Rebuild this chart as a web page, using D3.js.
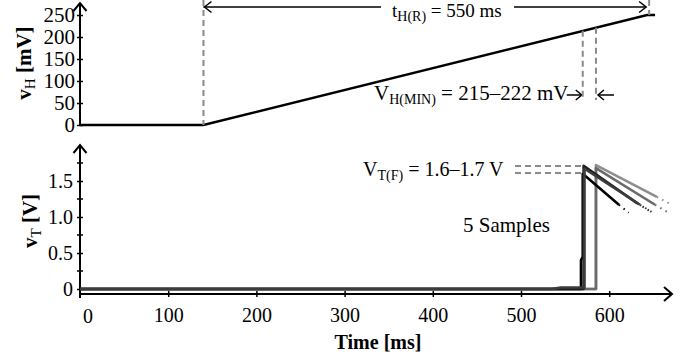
<!DOCTYPE html>
<html>
<head>
<meta charset="utf-8">
<script src="https://cdn.jsdelivr.net/npm/d3@7"></script>
<style>
body { margin: 0; background: #fff; }
text { font-family: "Liberation Serif", "Times New Roman", serif; fill: #000; }
</style>
</head>
<body>
<svg id="chart" width="689" height="354"></svg>
<script>
// ---- values ----
var timeTicks = [0, 100, 200, 300, 400, 500, 600];
var vhTicks = [0, 50, 100, 150, 200, 250];
var vtTicks = [0, 0.5, 1.0, 1.5];
var vtMinorTicks = [0.25, 0.75, 1.25, 1.75];

// heater voltage ramp (ms, mV)
var vhTrace = [[0, 0], [140, 0], [643, 250], [652, 250]];
var riseStart = 140, riseEnd = 643;
var vhMinTimes = [570, 585];
var vhMinValues = [214, 221];
var vtfLevels = [1.71, 1.61];

// 5 samples (ms, V), with dotted tails
var sample1 = [[0, 0], [568, 0], [568, 0.4], [570, 0.45], [570, 1.60], [575, 1.55], [611, 1.17]];
var sample1Tail = [[611, 1.17], [622, 1.06]];
var sample2 = [[0, 0], [571, 0], [571, 1.71], [632, 1.19]];
var sample2Tail = [[632, 1.19], [645, 1.09]];
var sample3 = [[0, 0], [535, 0], [545, 0.02], [572, 0.02], [572, 1.67], [635, 1.17]];
var sample3Tail = [[635, 1.17], [648, 1.07]];
var sample4 = [[0, 0], [585, 0], [585, 1.68], [652, 1.17]];
var sample4Tail = [[652, 1.17], [666, 1.07]];
var sample5 = [[0, 0], [585, 0], [585, 1.72], [654, 1.28]];
var sample5Tail = [[654, 1.28], [671, 1.17]];

var svg = d3.select("#chart");

var x = d3.scaleLinear().domain([0, 600]).range([80, 609.2]);
var yH = d3.scaleLinear().domain([0, 250]).range([125, 15]);
var yT = d3.scaleLinear().domain([0, 1.5]).range([289, 181]);

function chevron(px, py, dir, d, h) {
    // open arrow head, tip at px,py
    if (dir == "up") return "M" + (px - h) + "," + (py + d) + "L" + px + "," + py + "L" + (px + h) + "," + (py + d);
    if (dir == "right") return "M" + (px - d) + "," + (py - h) + "L" + px + "," + py + "L" + (px - d) + "," + (py + h);
    return "M" + (px + d) + "," + (py - h) + "L" + px + "," + py + "L" + (px + d) + "," + (py + h);
}

function dashed(x1, y1, x2, y2) {
    svg.append("line")
        .attr("x1", x1).attr("y1", y1).attr("x2", x2).attr("y2", y2)
        .attr("stroke", "#8a8a8a").attr("stroke-width", 2)
        .attr("stroke-dasharray", "6,4");
}

// ---------- top panel: vH ----------
var gTop = svg.append("g");

// y axis
gTop.append("line").attr("x1", 80).attr("x2", 80).attr("y1", yH(0)).attr("y2", 3)
    .attr("stroke", "#000").attr("stroke-width", 2);
gTop.append("path").attr("d", chevron(80, 3, "up", 8, 6.5))
    .attr("fill", "none").attr("stroke", "#000").attr("stroke-width", 2);

var yHAxis = gTop.append("g").attr("transform", "translate(80,0)")
    .call(d3.axisLeft(yH).tickValues(vhTicks).tickSize(3).tickPadding(2));
yHAxis.select(".domain").remove();
yHAxis.selectAll(".tick line").attr("x1", 3).attr("stroke-width", 1.5);
yHAxis.selectAll(".tick text")
    .style("font-family", '"Liberation Serif", serif').style("font-size", "21px");

// guide lines
dashed(x(riseStart), 0, x(riseStart), yH(0));
dashed(x(riseEnd) + 2, 0, x(riseEnd) + 2, yH(250));
vhMinTimes.forEach(function(t, i) {
    dashed(x(t), yH(vhMinValues[i]), x(t), 100);
});

// ramp
var lineH = d3.line().x(function(d) { return x(d[0]); }).y(function(d) { return yH(d[1]); });
gTop.append("path").datum(vhTrace).attr("d", lineH)
    .attr("fill", "none").attr("stroke", "#000").attr("stroke-width", 2.5);

// tH(R) arrow
var ay = 7;
gTop.append("line").attr("x1", x(riseStart)).attr("x2", 381).attr("y1", ay).attr("y2", ay)
    .attr("stroke", "#000").attr("stroke-width", 1.5);
gTop.append("line").attr("x1", 514).attr("x2", x(riseEnd) - 1).attr("y1", ay).attr("y2", ay)
    .attr("stroke", "#000").attr("stroke-width", 1.5);
gTop.append("path").attr("d", chevron(x(riseStart) + 1, ay, "left", 7, 5.5))
    .attr("fill", "none").attr("stroke", "#000").attr("stroke-width", 1.5);
gTop.append("path").attr("d", chevron(x(riseEnd) - 1, ay, "right", 7, 5.5))
    .attr("fill", "none").attr("stroke", "#000").attr("stroke-width", 1.5);

var tText = gTop.append("text").attr("x", 392).attr("y", 17).style("font-size", "19px");
tText.append("tspan").text("t");
tText.append("tspan").attr("dy", 4).style("font-size", "14px").text("H(R)");
tText.append("tspan").attr("dy", -4).text(" = 550 ms");

// VH(MIN) annotation
var vText = gTop.append("text").attr("x", 374).attr("y", 100).style("font-size", "21px");
vText.append("tspan").text("V");
vText.append("tspan").attr("dy", 4).style("font-size", "14px").text("H(MIN)");
vText.append("tspan").attr("dy", -4).text(" = 215\u2013222 mV");

var a1 = x(vhMinTimes[0]) - 1, a2 = x(vhMinTimes[1]) + 2;
gTop.append("line").attr("x1", a1 - 15).attr("x2", a1).attr("y1", 95).attr("y2", 95)
    .attr("stroke", "#000").attr("stroke-width", 1.5);
gTop.append("path").attr("d", chevron(a1, 95, "right", 6, 5))
    .attr("fill", "none").attr("stroke", "#000").attr("stroke-width", 1.5);
gTop.append("line").attr("x1", a2).attr("x2", a2 + 16).attr("y1", 95).attr("y2", 95)
    .attr("stroke", "#000").attr("stroke-width", 1.5);
gTop.append("path").attr("d", chevron(a2, 95, "left", 6, 5))
    .attr("fill", "none").attr("stroke", "#000").attr("stroke-width", 1.5);

// y label
var yhLabel = gTop.append("text").attr("transform", "translate(31,63) rotate(-90)")
    .attr("text-anchor", "middle").style("font-size", "21px").style("font-weight", "bold");
yhLabel.append("tspan").text("v");
yhLabel.append("tspan").attr("dy", 4).style("font-size", "15px").style("font-weight", "normal").text("H");
yhLabel.append("tspan").attr("dy", -4).text(" [mV]");

// ---------- bottom panel: vT ----------
var gBot = svg.append("g");

// x axis
gBot.append("line").attr("x1", 80).attr("x2", 671).attr("y1", 294).attr("y2", 294)
    .attr("stroke", "#000").attr("stroke-width", 2);
gBot.append("path").attr("d", chevron(672, 294, "right", 8, 7))
    .attr("fill", "none").attr("stroke", "#000").attr("stroke-width", 2);
var xAxis = gBot.append("g").attr("transform", "translate(0,294)")
    .call(d3.axisBottom(x).tickValues(timeTicks.slice(1)).tickSize(3).tickPadding(11));
xAxis.select(".domain").remove();
xAxis.selectAll(".tick line").attr("y1", -3).attr("stroke-width", 1.5);
xAxis.selectAll(".tick text")
    .style("font-family", '"Liberation Serif", serif').style("font-size", "20px");
gBot.append("text").attr("x", x(0) + 8).attr("y", 323).attr("text-anchor", "middle")
    .style("font-size", "20px").text(timeTicks[0]);

// y axis
gBot.append("line").attr("x1", 80).attr("x2", 80).attr("y1", 298).attr("y2", 145)
    .attr("stroke", "#000").attr("stroke-width", 2);
gBot.append("path").attr("d", chevron(80, 145, "up", 8, 6.5))
    .attr("fill", "none").attr("stroke", "#000").attr("stroke-width", 2);
var yTAxis = gBot.append("g").attr("transform", "translate(80,0)")
    .call(d3.axisLeft(yT).tickValues(vtTicks).tickSize(3).tickPadding(4)
        .tickFormat(function(d) { return d == 0 ? "0" : d3.format(".1f")(d); }));
yTAxis.select(".domain").remove();
yTAxis.selectAll(".tick line").attr("x1", 3).attr("stroke-width", 1.5);
yTAxis.selectAll(".tick text")
    .style("font-family", '"Liberation Serif", serif').style("font-size", "20px");
gBot.selectAll("line.minor").data(vtMinorTicks).enter().append("line")
    .attr("class", "minor")
    .attr("x1", 77).attr("x2", 83)
    .attr("y1", function(d) { return yT(d); }).attr("y2", function(d) { return yT(d); })
    .attr("stroke", "#000").attr("stroke-width", 1.5);

// VT(F) guides
vtfLevels.forEach(function(v) { dashed(515, yT(v), x(570), yT(v)); });

// traces
var lineT = d3.line().x(function(d) { return x(d[0]); }).y(function(d) { return yT(d[1]); });
var traces = [
    { pts: sample5, tail: sample5Tail, col: "#8e8e8e" },
    { pts: sample4, tail: sample4Tail, col: "#6a6a6a" },
    { pts: sample1, tail: sample1Tail, col: "#000000" },
    { pts: sample2, tail: sample2Tail, col: "#1e1e1e" },
    { pts: sample3, tail: sample3Tail, col: "#3c3c3c" }
];
traces.forEach(function(tr) {
    gBot.append("path").datum(tr.pts).attr("d", lineT)
        .attr("fill", "none").attr("stroke", tr.col).attr("stroke-width", 2.6)
        .attr("stroke-linejoin", "round");
    gBot.append("path").datum(tr.tail).attr("d", lineT)
        .attr("fill", "none").attr("stroke", tr.col).attr("stroke-width", 2)
        .attr("stroke-dasharray", "1.5,4.5");
});

// annotations
var vfText = gBot.append("text").attr("x", 363).attr("y", 176).style("font-size", "20px");
vfText.append("tspan").text("V");
vfText.append("tspan").attr("dy", 4).style("font-size", "14px").text("T(F)");
vfText.append("tspan").attr("dy", -4).text(" = 1.6\u20131.7 V");

gBot.append("text").attr("x", 463).attr("y", 232).style("font-size", "21px").text("5 Samples");

var ytLabel = gBot.append("text").attr("transform", "translate(37,221) rotate(-90)")
    .attr("text-anchor", "middle").style("font-size", "21px").style("font-weight", "bold");
ytLabel.append("tspan").text("v");
ytLabel.append("tspan").attr("dy", 4).style("font-size", "15px").style("font-weight", "normal").text("T");
ytLabel.append("tspan").attr("dy", -4).text(" [V]");

gBot.append("text").attr("x", 378).attr("y", 349).attr("text-anchor", "middle")
    .style("font-size", "20px").style("font-weight", "bold").text("Time [ms]");
</script>
</body>
</html>
